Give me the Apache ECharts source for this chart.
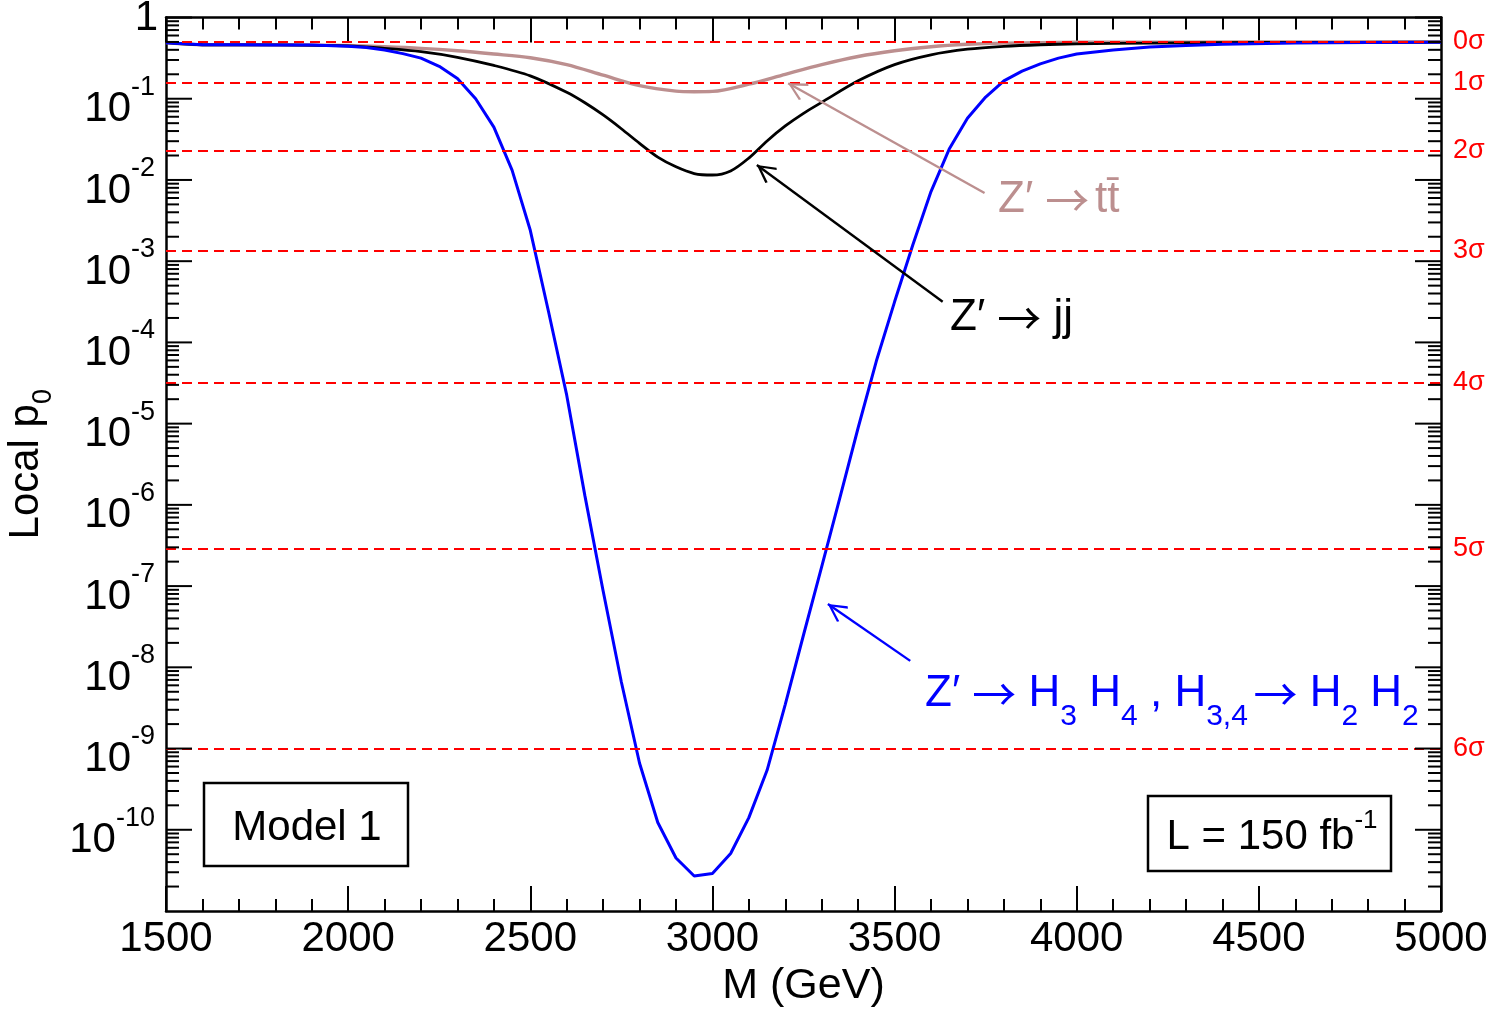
<!DOCTYPE html>
<html>
<head>
<meta charset="utf-8">
<title>Local p0</title>
<script src="https://cdn.jsdelivr.net/npm/echarts@6/dist/echarts.min.js"></script>
<style>
html, body { margin: 0; padding: 0; background: #fff; }
#main { width: 1492px; height: 1013px; }
</style>
</head>
<body>
<div id="main"></div>
<script>
// Z' -> H3 H4, H3,4 -> H2 H2 (blue)
var massHH = [1500, 1600, 1700, 1800, 1900, 2000, 2050, 2100, 2150, 2200, 2250, 2300, 2350, 2400, 2450,
  2500, 2550, 2600, 2650, 2700, 2750, 2800, 2850, 2900, 2950, 3000, 3050, 3100, 3150, 3200, 3250,
  3300, 3350, 3400, 3450, 3500, 3550, 3600, 3650, 3700, 3750, 3800, 3850, 3900, 3950, 4000,
  4100, 4200, 4300, 4400, 4600, 4800, 5000];
var pHH = [0.490, 0.462, 0.461, 0.460, 0.457, 0.442, 0.427, 0.398, 0.359, 0.316, 0.251, 0.178, 0.100, 0.0447, 0.0132,
  2.40e-3, 2.40e-4, 2.24e-5, 1.29e-6, 8.7e-8, 6.6e-9, 6.6e-10, 1.23e-10, 4.5e-11, 2.7e-11, 2.9e-11, 5.1e-11, 1.41e-10, 5.4e-10, 3.5e-9, 2.5e-8,
  1.74e-7, 1.23e-6, 8.9e-6, 5.9e-5, 3.16e-4, 1.58e-3, 7.2e-3, 0.024, 0.0575, 0.105, 0.166, 0.219, 0.269, 0.316, 0.355,
  0.398, 0.432, 0.452, 0.468, 0.484, 0.493, 0.497];

// Z' -> jj (black)
var massJJ = [1500, 1600, 1800, 2000, 2100, 2200, 2300, 2400, 2500, 2600, 2650, 2700, 2750, 2800, 2850, 2900,
  2950, 3000, 3050, 3100, 3150, 3200, 3250, 3300, 3400, 3500, 3600, 3700, 3800, 3900, 4000, 4200, 4500, 5000];
var pJJ = [0.490, 0.462, 0.460, 0.447, 0.417, 0.380, 0.324, 0.257, 0.191, 0.120, 0.0891, 0.0631, 0.0427, 0.0282, 0.0191, 0.0145,
  0.0120, 0.0115, 0.0129, 0.0186, 0.0302, 0.0462, 0.0661, 0.0902, 0.166, 0.263, 0.347, 0.407, 0.442, 0.462, 0.473, 0.484, 0.492, 0.497];

// Z' -> t tbar (brown)
var massTT = [1500, 1600, 1800, 2000, 2100, 2200, 2300, 2400, 2500, 2600, 2700, 2800, 2900, 2950, 3000,
  3100, 3200, 3300, 3400, 3500, 3600, 3700, 3800, 4000, 4500, 5000];
var pTT = [0.490, 0.462, 0.460, 0.452, 0.437, 0.417, 0.389, 0.355, 0.320, 0.263, 0.195, 0.145, 0.124, 0.122, 0.123,
  0.151, 0.200, 0.263, 0.331, 0.389, 0.437, 0.468, 0.484, 0.495, 0.499, 0.500];

// significance lines
var sigmaNames = ['0σ', '1σ', '2σ', '3σ', '4σ', '5σ', '6σ'];
var sigmaP = [0.5, 0.1587, 0.02275, 0.00135, 3.167e-5, 2.867e-7, 9.866e-10];

// y decade ticks and their exponents
var yTicks = [1, 1e-1, 1e-2, 1e-3, 1e-4, 1e-5, 1e-6, 1e-7, 1e-8, 1e-9, 1e-10];
var yExp = [0, -1, -2, -3, -4, -5, -6, -7, -8, -9, -10];

// arrows: [tail, tip] as [mass, p]
var arrowTT = [[3747, 6.9e-3], [3208, 0.155]];
var arrowJJ = [[3632, 3.16e-4], [3122, 0.0153]];
var arrowHH = [[3543, 1.2e-8], [3317, 6.0e-8]];

var font = '"Liberation Sans", Arial, Helvetica, sans-serif';
var arrowFont = '"Noto Sans CJK SC", "DejaVu Sans", sans-serif';
var chevron = 'path://M7,0 L14,14 L12.6,15.2 L7,3.6 L1.4,15.2 L0,14 Z M7,-15 L7.01,-15 Z';

function pairs(xs, ys) {
  return xs.map(function (x, i) { return [x, ys[i]]; });
}

function arrowLine(a, color) {
  return {
    silent: true, precision: 12,
    symbol: ['none', chevron],
    symbolSize: [19, 38],
    label: { show: false },
    lineStyle: { color: color, width: 2.4, type: 'solid' },
    emphasis: { disabled: true },
    data: [[{ coord: a[0] }, { coord: a[1] }]]
  };
}

function labelRich(color, size) {
  return {
    a: { fontSize: size, lineHeight: 44, verticalAlign: 'top', fontFamily: font, fill: color, color: color },
    r: { fontSize: size, lineHeight: 44, verticalAlign: 'top', fontFamily: arrowFont, fill: color, color: color },
    g: { fontSize: 20, lineHeight: 44, verticalAlign: 'top', fontFamily: font, fill: color, color: color },
    s: { fontSize: 30, lineHeight: 30, padding: [30, 0, 0, 0], verticalAlign: 'top', fontFamily: font, fill: color, color: color }
  };
}

// minor (2..9) ticks for the log axis, drawn on both sides
var minorY = [];
for (var e = -11; e < 0; e++) {
  for (var k = 2; k <= 9; k++) minorY.push([1500, k * Math.pow(10, e)]);
}

var chart = echarts.init(document.getElementById('main'));

var xBase = {
  type: 'value', min: 1500, max: 5000, interval: 500,
  axisLine: { lineStyle: { color: '#000', width: 2.5 } },
  axisTick: { inside: true, length: 25, lineStyle: { color: '#000', width: 2 } },
  minorTick: { show: true, splitNumber: 5, length: 12, lineStyle: { color: '#000', width: 2 } },
  splitLine: { show: false }
};
var yBase = {
  type: 'log', logBase: 10, min: 1e-11, max: 1,
  axisLine: { lineStyle: { color: '#000', width: 2.5 } },
  axisTick: { show: false },
  axisLabel: { show: false },
  splitLine: { show: false }
};

chart.setOption({
  animation: false,
  backgroundColor: '#fff',
  textStyle: { fontFamily: font },
  grid: { left: 166, right: 51, top: 17.5, bottom: 102, containLabel: false, outerBoundsMode: 'none' },
  xAxis: [
    Object.assign({}, xBase, {
      position: 'bottom',
      axisLabel: { fontSize: 42, color: '#000', margin: 7, fontFamily: font, formatter: function (v) { return String(v); } },
      name: 'M (GeV)', nameLocation: 'middle', nameGap: 49,
      nameTextStyle: { fontSize: 43, color: '#000', fontFamily: font }
    }),
    Object.assign({}, xBase, { position: 'top', axisLabel: { show: false } })
  ],
  yAxis: [
    Object.assign({}, yBase, {
      position: 'left',
      name: '{a|Local p}{s|0}', nameLocation: 'middle', nameGap: 119, nameRotate: 90,
      nameTextStyle: {
        rich: {
          a: { fontSize: 42, lineHeight: 42, verticalAlign: 'top', fontFamily: font, color: '#000' },
          s: { fontSize: 27, lineHeight: 27, padding: [25, 0, 0, 0], verticalAlign: 'top', fontFamily: font, color: '#000' }
        }
      }
    }),
    Object.assign({}, yBase, { position: 'right' })
  ],
  graphic: [
    {
      type: 'rect', shape: { x: 204, y: 783, width: 204, height: 83 },
      style: { fill: 'none', stroke: '#000', lineWidth: 2.5 }
    },
    {
      type: 'text', x: 307, y: 828,
      style: { text: 'Model 1', font: '42px ' + font, fill: '#000', textAlign: 'center', textVerticalAlign: 'middle', align: 'center', verticalAlign: 'middle' }
    },
    {
      type: 'rect', shape: { x: 1148, y: 796, width: 243, height: 75 },
      style: { fill: 'none', stroke: '#000', lineWidth: 2.5 }
    },
    {
      type: 'text', x: 1272, y: 829,
      style: {
        text: '{a|L = 150 fb}{s|-1}', fill: '#000',
        textAlign: 'center', textVerticalAlign: 'middle', align: 'center', verticalAlign: 'middle',
        rich: {
          a: { fontSize: 42, lineHeight: 42, padding: [8, 0, 0, 0], verticalAlign: 'top', fontFamily: font, fill: '#000' },
          s: { fontSize: 26, lineHeight: 26, verticalAlign: 'top', fontFamily: font, fill: '#000' }
        }
      }
    },
    {
      type: 'text', x: 998, y: 200,
      style: {
        text: '{a|Z′ }{r|→}{g| }{a|tt̄}',
        textAlign: 'left', textVerticalAlign: 'middle', align: 'left', verticalAlign: 'middle',
        rich: labelRich('#bc8f8f', 44)
      }
    },
    {
      type: 'text', x: 950, y: 318,
      style: {
        text: '{a|Z′ }{r|→}{a| jj}',
        textAlign: 'left', textVerticalAlign: 'middle', align: 'left', verticalAlign: 'middle',
        rich: labelRich('#000', 44)
      }
    },
    {
      type: 'text', x: 925, y: 694,
      style: {
        text: '{a|Z′ }{r|→}{a| H}{s|3}{a| H}{s|4}{a| , H}{s|3,4}{g| }{r|→}{a| H}{s|2}{a| H}{s|2}',
        textAlign: 'left', textVerticalAlign: 'middle', align: 'left', verticalAlign: 'middle',
        rich: labelRich('#0000ff', 44)
      }
    }
  ],
  series: [
    {
      name: 'sigma', type: 'line', data: [], silent: true,
      markLine: {
        silent: true, precision: 12, symbol: ['none', 'none'],
        lineStyle: { color: '#ff0000', width: 2, type: [10, 6] },
        label: { show: true, position: 'end', formatter: '{b}', color: '#ff0000', fontSize: 27, distance: 12, fontFamily: font },
        emphasis: { disabled: true },
        data: sigmaP.map(function (p, i) { return { yAxis: p, name: sigmaNames[i] }; })
      }
    },
    {
      name: 'tt', type: 'line', data: pairs(massTT, pTT), showSymbol: false, smooth: 0.3,
      lineStyle: { color: '#bc8f8f', width: 3.4 }, itemStyle: { color: '#bc8f8f' }, silent: true,
      markLine: arrowLine(arrowTT, '#bc8f8f')
    },
    {
      name: 'jj', type: 'line', data: pairs(massJJ, pJJ), showSymbol: false, smooth: 0.3,
      lineStyle: { color: '#000', width: 2.8 }, itemStyle: { color: '#000' }, silent: true,
      markLine: arrowLine(arrowJJ, '#000')
    },
    {
      name: 'HH', type: 'line', data: pairs(massHH, pHH), showSymbol: false,
      lineStyle: { color: '#0000ff', width: 3 }, itemStyle: { color: '#0000ff' }, silent: true,
      markLine: arrowLine(arrowHH, '#0000ff')
    },
    {
      name: 'minorTicks', type: 'custom', data: minorY, silent: true, z: 5,
      renderItem: function (params, api) {
        var v = api.value(1);
        var pl = api.coord([1500, v]);
        var pr = api.coord([5000, v]);
        return {
          type: 'group',
          children: [
            { type: 'line', shape: { x1: pl[0], y1: pl[1], x2: pl[0] + 13, y2: pl[1] }, style: { stroke: '#000', lineWidth: 2 } },
            { type: 'line', shape: { x1: pr[0] - 13, y1: pr[1], x2: pr[0], y2: pr[1] }, style: { stroke: '#000', lineWidth: 2 } }
          ]
        };
      }
    },
    {
      name: 'decades', type: 'custom', silent: true, z: 5,
      data: yTicks.map(function (v, i) { return [1500, v, yExp[i]]; }),
      renderItem: function (params, api) {
        var v = api.value(1);
        var ex = api.value(2);
        var pl = api.coord([1500, v]);
        var pr = api.coord([5000, v]);
        var label;
        if (ex === 0) {
          label = {
            type: 'text', x: pl[0] - 8, y: pl[1] + 1,
            style: { text: '1', font: '42px ' + font, fill: '#000', align: 'right', verticalAlign: 'middle', textAlign: 'right', textVerticalAlign: 'middle' }
          };
        } else {
          label = {
            type: 'text', x: pl[0] - 11, y: pl[1] - 4,
            style: {
              text: '{b|10}{s|' + ex + '}', align: 'right', verticalAlign: 'middle', textAlign: 'right', textVerticalAlign: 'middle',
              rich: {
                b: { fontSize: 42, lineHeight: 42, padding: [15, 0, 0, 0], verticalAlign: 'top', fontFamily: font, fill: '#000' },
                s: { fontSize: 27, lineHeight: 28, verticalAlign: 'top', fontFamily: font, fill: '#000' }
              }
            }
          };
        }
        return {
          type: 'group',
          children: [
            { type: 'line', shape: { x1: pl[0], y1: pl[1], x2: pl[0] + 26, y2: pl[1] }, style: { stroke: '#000', lineWidth: 2 } },
            { type: 'line', shape: { x1: pr[0] - 26, y1: pr[1], x2: pr[0], y2: pr[1] }, style: { stroke: '#000', lineWidth: 2 } },
            label
          ]
        };
      }
    }
  ]
});
</script>
</body>
</html>
